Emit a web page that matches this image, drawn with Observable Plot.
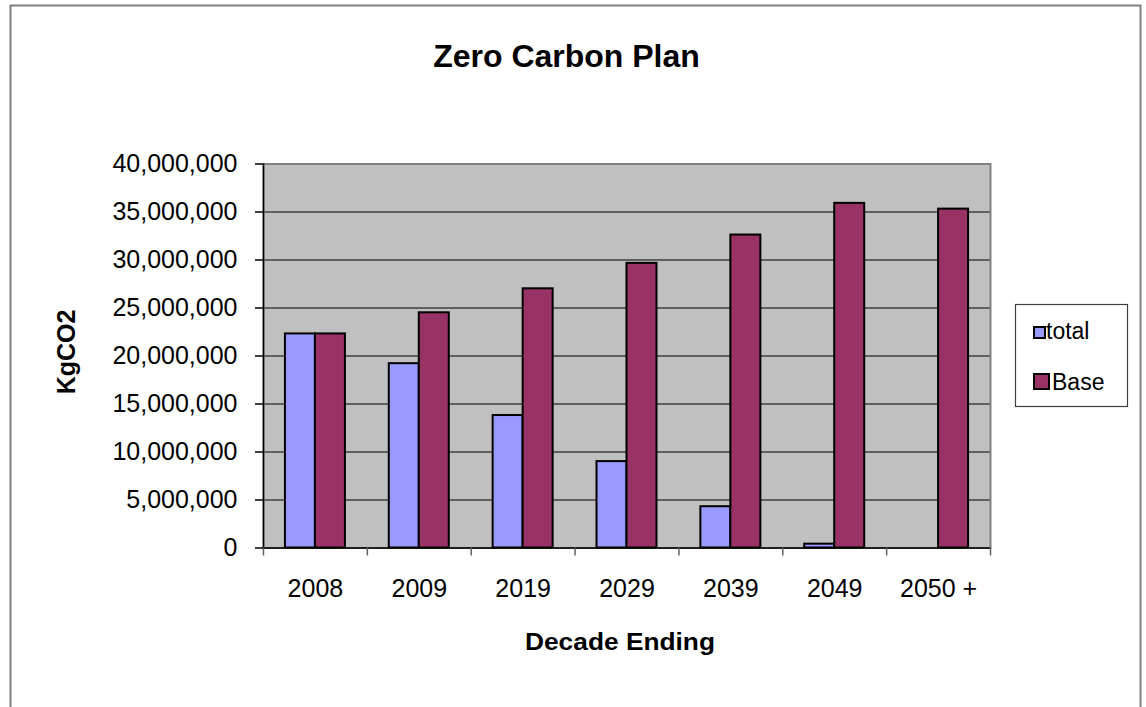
<!DOCTYPE html>
<html>
<head>
<meta charset="utf-8">
<script src="https://cdn.jsdelivr.net/npm/d3@7"></script>
<script src="https://cdn.jsdelivr.net/npm/@observablehq/plot@0.6"></script>
<style>
  html, body { margin: 0; padding: 0; background: #fff; overflow: hidden; }
  #wrap { position: relative; width: 1146px; height: 707px; font-family: "Liberation Sans", Arial, sans-serif; }
  #chart { position: absolute; left: 0; top: 0; }
  #overlay { position: absolute; left: 0; top: 0; pointer-events: none; }
</style>
</head>
<body>
<div id="wrap">
  <div id="chart"></div>
  <svg id="overlay" width="1146" height="707"></svg>
</div>
<script>
// ---- data ----
const categories = ["2008", "2009", "2019", "2029", "2039", "2049", "2050 +"];
const totalValues = [22300000, 19200000, 13800000, 9000000, 4300000, 400000, 0];
const baseValues = [22300000, 24500000, 27000000, 29650000, 32600000, 35900000, 35300000];
const seriesNames = ["total", "Base"];
const seriesColors = ["#9999FF", "#993366"];
const yTicks = [0, 5000000, 10000000, 15000000, 20000000, 25000000, 30000000, 35000000, 40000000];
const chartTitle = "Zero Carbon Plan";
const xTitle = "Decade Ending";
const yTitle = "KgCO2";

// ---- table ----
const rows = [];
categories.forEach((c, i) => {
  rows.push({category: c, series: seriesNames[0], value: totalValues[i]});
  rows.push({category: c, series: seriesNames[1], value: baseValues[i]});
});

const W = 1146, H = 707;
const mL = 263, mR = 156, mT = 163.5, mB = 159.5;
const step = (W - mL - mR) / categories.length;
const barPair = 60;
const pi = 1 - barPair / step;
const half = barPair / 2;

const plot = Plot.plot({
  width: W,
  height: H,
  marginLeft: mL,
  marginRight: mR,
  marginTop: mT,
  marginBottom: mB,
  style: {fontFamily: "'Liberation Sans', Arial, sans-serif", fontSize: "25px", color: "black", background: "transparent"},
  x: {type: "band", domain: categories, paddingInner: pi, paddingOuter: pi / 2, round: false, label: null},
  y: {domain: [0, 40000000], label: null},
  color: {domain: seriesNames, range: seriesColors},
  marks: [
    Plot.frame({fill: "#C0C0C0"}),
    Plot.ruleY(yTicks.filter(d => d > 0 && d < 40000000), {stroke: "black", strokeWidth: 1}),
    Plot.frame({stroke: "#808080", strokeWidth: 2}),
    Plot.barY(rows.filter(d => d.series === seriesNames[0]), {x: "category", y: "value", fill: "series", stroke: "black", strokeWidth: 2, insetRight: half}),
    Plot.barY(rows.filter(d => d.series === seriesNames[1]), {x: "category", y: "value", fill: "series", stroke: "black", strokeWidth: 2, insetLeft: half}),
    Plot.ruleY([0], {stroke: "black", strokeWidth: 1.5}),
    Plot.frame({anchor: "left", stroke: "black", strokeWidth: 1.5}),
    // category boundary ticks
    Plot.ruleX(categories, {x: d => d, y1: 0, y2: 0, dx: -step / 2, insetBottom: -8, stroke: "#606060", strokeWidth: 1.5}),
    Plot.ruleX(categories.slice(-1), {x: d => d, y1: 0, y2: 0, dx: step / 2, insetBottom: -8, stroke: "#606060", strokeWidth: 1.5}),
    Plot.axisY({ticks: yTicks, tickFormat: d3.format(","), tickSize: 8, tickPadding: 18, stroke: "black", strokeWidth: 1.5, label: null}),
    Plot.axisX({tickSize: 0, tickPadding: 31, label: null})
  ]
});
document.getElementById("chart").appendChild(plot);

// ---- overlay: border, titles, legend ----
const ov = d3.select("#overlay");
ov.append("rect").attr("x", 10.5).attr("y", 5.5).attr("width", 1130).attr("height", 720)
  .attr("fill", "none").attr("stroke", "#808080").attr("stroke-width", 2);
ov.append("text").attr("x", 566.5).attr("y", 66.5).attr("text-anchor", "middle")
  .attr("font-family", "'Liberation Sans', Arial, sans-serif").attr("font-weight", "bold").attr("font-size", 32)
  .text(chartTitle);
ov.append("text").attr("x", 620).attr("y", 649.5).attr("text-anchor", "middle")
  .attr("font-family", "'Liberation Sans', Arial, sans-serif").attr("font-weight", "bold").attr("font-size", 24)
  .attr("textLength", 190).attr("lengthAdjust", "spacingAndGlyphs")
  .text(xTitle);
ov.append("text").attr("transform", "translate(75,352) rotate(-90)").attr("text-anchor", "middle")
  .attr("font-family", "'Liberation Sans', Arial, sans-serif").attr("font-weight", "bold").attr("font-size", 25)
  .text(yTitle);

// legend
const lg = ov.append("g");
lg.append("rect").attr("x", 1015.5).attr("y", 304.5).attr("width", 112).attr("height", 102)
  .attr("fill", "white").attr("stroke", "#404040").attr("stroke-width", 1.2);
const legendRows = [
  {name: seriesNames[0], color: seriesColors[0], sy: 327, ss: 11, tx: 1046, ty: 338.5},
  {name: seriesNames[1], color: seriesColors[1], sy: 374, ss: 15, tx: 1052, ty: 390}
];
legendRows.forEach(r => {
  lg.append("rect").attr("x", 1034).attr("y", r.sy).attr("width", r.ss).attr("height", r.ss)
    .attr("fill", r.color).attr("stroke", "black").attr("stroke-width", 2);
  lg.append("text").attr("x", r.tx).attr("y", r.ty)
    .attr("font-family", "'Liberation Sans', Arial, sans-serif").attr("font-size", 23)
    .text(r.name);
});
</script>
</body>
</html>
